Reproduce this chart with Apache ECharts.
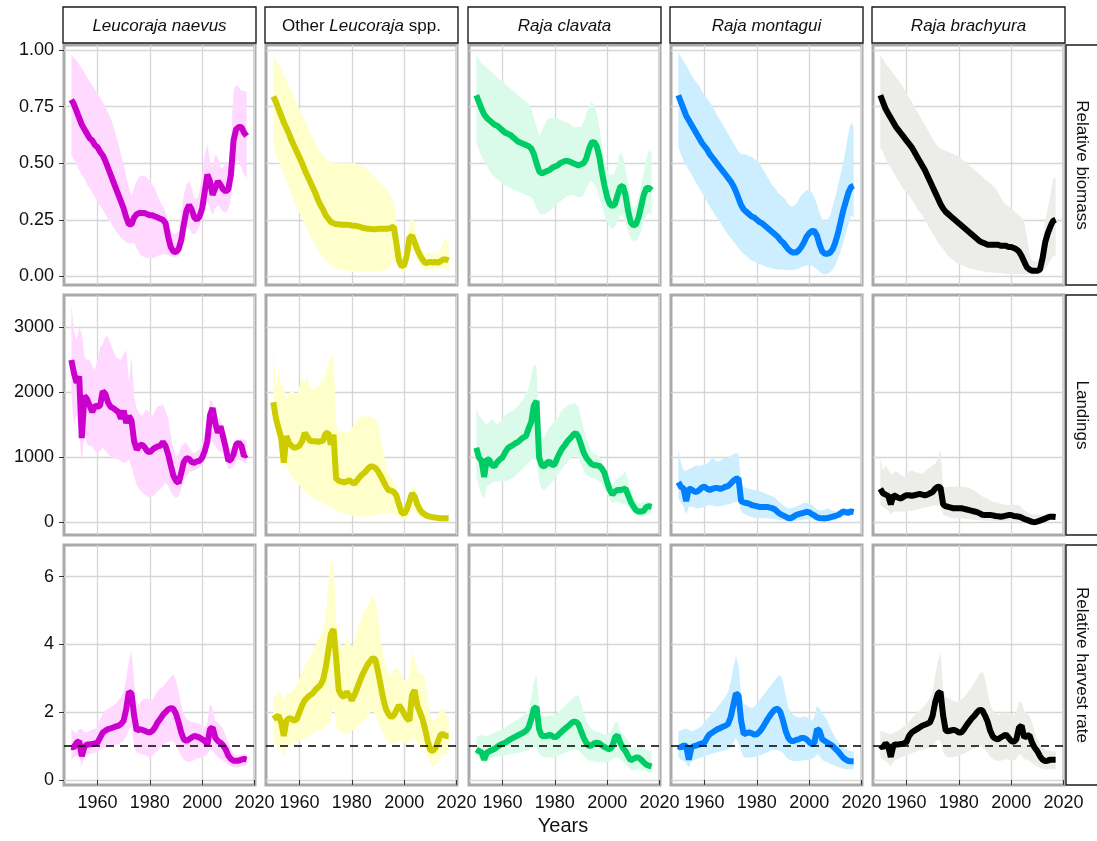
<!DOCTYPE html>
<html>
<head>
<meta charset="utf-8">
<script src="https://cdn.jsdelivr.net/npm/echarts@6.0.0/dist/echarts.min.js"></script>
<style>
  html, body { margin: 0; padding: 0; background: #fff; }
  #chart { width: 1097px; height: 841px; }
</style>
</head>
<body>
<div id="chart"></div>
<script>
// years of the series
const years = [1950,1951,1952,1953,1954,1955,1956,1957,1958,1959,
  1960,1961,1962,1963,1964,1965,1966,1967,1968,1969,
  1970,1971,1972,1973,1974,1975,1976,1977,1978,1979,
  1980,1981,1982,1983,1984,1985,1986,1987,1988,1989,
  1990,1991,1992,1993,1994,1995,1996,1997,1998,1999,
  2000,2001,2002,2003,2004,2005,2006,2007,2008,2009,
  2010,2011,2012,2013,2014,2015,2016,2017];

const species = ['Leucoraja naevus', 'Other {i|Leucoraja} spp.', 'Raja clavata', 'Raja montagui', 'Raja brachyura'];
const rowNames = ['Relative biomass', 'Landings', 'Relative harvest rate'];
const xTicks = [1960, 1980, 2000, 2020];
const yTicks = [[0, 0.25, 0.5, 0.75, 1], [0, 1000, 2000, 3000], [0, 2, 4, 6]];

// ---- relative biomass ----
const naevusBio = [0.78,0.76,0.73,0.70,0.67,0.65,0.63,0.61,0.60,0.58,
  0.57,0.55,0.535,0.51,0.48,0.45,0.42,0.39,0.36,0.33,
  0.30,0.26,0.23,0.23,0.26,0.275,0.28,0.28,0.28,0.275,
  0.27,0.27,0.265,0.26,0.255,0.25,0.235,0.175,0.13,0.11,
  0.108,0.12,0.16,0.23,0.29,0.315,0.295,0.26,0.25,0.265,
  0.30,0.375,0.45,0.42,0.36,0.39,0.42,0.405,0.385,0.375,
  0.385,0.45,0.60,0.65,0.66,0.66,0.635,0.62];
const naevusBioHi = [0.98,0.965,0.955,0.935,0.92,0.90,0.88,0.86,0.845,0.825,
  0.81,0.79,0.77,0.75,0.725,0.70,0.665,0.625,0.585,0.54,
  0.495,0.44,0.39,0.355,0.39,0.42,0.44,0.445,0.445,0.435,
  0.42,0.405,0.385,0.355,0.33,0.31,0.285,0.25,0.21,0.19,
  0.19,0.20,0.285,0.36,0.405,0.42,0.39,0.345,0.345,0.375,
  0.45,0.54,0.585,0.51,0.48,0.54,0.525,0.48,0.48,0.51,
  0.48,0.60,0.82,0.845,0.835,0.82,0.82,0.815];
const naevusBioLo = [0.54,0.515,0.495,0.47,0.45,0.43,0.405,0.39,0.37,0.35,
  0.33,0.31,0.295,0.275,0.255,0.24,0.22,0.20,0.185,0.17,
  0.16,0.15,0.145,0.145,0.145,0.125,0.10,0.09,0.085,0.08,
  0.08,0.08,0.085,0.09,0.095,0.098,0.10,0.095,0.088,0.085,
  0.085,0.092,0.135,0.19,0.21,0.22,0.19,0.185,0.20,0.22,
  0.255,0.30,0.33,0.30,0.27,0.30,0.315,0.30,0.285,0.28,
  0.295,0.345,0.45,0.51,0.51,0.48,0.45,0.435];

const otherBio = [0.795,0.77,0.74,0.71,0.68,0.655,0.63,0.60,0.575,0.55,
  0.525,0.50,0.47,0.445,0.42,0.395,0.37,0.34,0.315,0.295,
  0.27,0.255,0.24,0.235,0.23,0.23,0.228,0.228,0.228,0.227,
  0.225,0.224,0.222,0.22,0.215,0.213,0.21,0.21,0.208,0.208,
  0.21,0.21,0.21,0.21,0.21,0.215,0.22,0.15,0.07,0.045,
  0.05,0.09,0.17,0.18,0.15,0.12,0.095,0.075,0.06,0.06,
  0.065,0.06,0.065,0.06,0.068,0.075,0.075,0.07];
const otherBioHi = [0.98,0.96,0.94,0.915,0.89,0.865,0.84,0.815,0.79,0.765,
  0.74,0.715,0.69,0.665,0.64,0.615,0.59,0.57,0.55,0.535,
  0.52,0.51,0.505,0.50,0.50,0.50,0.50,0.50,0.50,0.50,
  0.50,0.50,0.495,0.49,0.485,0.48,0.47,0.46,0.45,0.435,
  0.42,0.41,0.40,0.385,0.37,0.35,0.33,0.24,0.13,0.09,
  0.10,0.14,0.24,0.26,0.22,0.17,0.14,0.11,0.10,0.10,
  0.11,0.10,0.11,0.10,0.12,0.15,0.17,0.14];
const otherBioLo = [0.57,0.54,0.51,0.48,0.45,0.42,0.39,0.36,0.33,0.305,
  0.28,0.255,0.23,0.205,0.18,0.16,0.14,0.12,0.10,0.085,
  0.07,0.06,0.05,0.042,0.035,0.032,0.03,0.028,0.025,0.022,
  0.02,0.02,0.02,0.02,0.02,0.02,0.02,0.02,0.02,0.02,
  0.02,0.022,0.025,0.03,0.04,0.055,0.07,0.06,0.03,0.02,
  0.02,0.05,0.10,0.12,0.10,0.07,0.05,0.04,0.03,0.03,
  0.035,0.03,0.035,0.03,0.035,0.04,0.03,0.02];

const clavataBio = [0.80,0.77,0.74,0.715,0.70,0.69,0.68,0.67,0.665,0.655,
  0.645,0.635,0.63,0.625,0.615,0.605,0.595,0.59,0.585,0.58,
  0.575,0.565,0.54,0.50,0.465,0.455,0.46,0.465,0.47,0.48,
  0.485,0.49,0.50,0.505,0.51,0.51,0.505,0.50,0.495,0.49,
  0.495,0.50,0.52,0.56,0.59,0.595,0.575,0.53,0.46,0.40,
  0.35,0.32,0.31,0.32,0.36,0.395,0.40,0.36,0.29,0.24,
  0.225,0.23,0.26,0.31,0.36,0.39,0.39,0.38];
const clavataBioHi = [0.98,0.96,0.94,0.93,0.92,0.91,0.90,0.89,0.88,0.87,
  0.86,0.85,0.84,0.83,0.82,0.81,0.80,0.79,0.78,0.77,
  0.76,0.74,0.70,0.66,0.62,0.64,0.67,0.69,0.70,0.70,
  0.70,0.70,0.69,0.69,0.68,0.68,0.67,0.66,0.66,0.66,
  0.66,0.68,0.72,0.75,0.77,0.76,0.72,0.66,0.58,0.51,
  0.47,0.45,0.45,0.46,0.50,0.55,0.53,0.48,0.41,0.34,
  0.30,0.31,0.35,0.40,0.46,0.52,0.56,0.54];
const clavataBioLo = [0.59,0.56,0.53,0.51,0.49,0.47,0.45,0.44,0.43,0.42,
  0.41,0.40,0.395,0.39,0.385,0.38,0.375,0.37,0.365,0.36,
  0.355,0.35,0.33,0.30,0.28,0.275,0.275,0.28,0.29,0.30,
  0.31,0.32,0.33,0.34,0.35,0.355,0.36,0.36,0.355,0.35,
  0.35,0.36,0.39,0.41,0.42,0.41,0.39,0.35,0.31,0.27,
  0.24,0.22,0.21,0.22,0.25,0.27,0.27,0.24,0.20,0.17,
  0.155,0.155,0.17,0.20,0.24,0.27,0.28,0.27];

const montaguiBio = [0.80,0.77,0.74,0.71,0.69,0.67,0.65,0.63,0.61,0.59,
  0.575,0.56,0.54,0.525,0.51,0.495,0.48,0.465,0.45,0.435,
  0.42,0.40,0.375,0.345,0.315,0.295,0.285,0.275,0.265,0.26,
  0.25,0.24,0.235,0.225,0.215,0.205,0.195,0.185,0.175,0.16,
  0.15,0.135,0.12,0.11,0.105,0.105,0.115,0.13,0.15,0.175,
  0.19,0.20,0.20,0.18,0.14,0.11,0.10,0.10,0.105,0.12,
  0.15,0.19,0.24,0.29,0.33,0.37,0.395,0.40];
const montaguiBioHi = [0.99,0.97,0.95,0.93,0.91,0.89,0.87,0.855,0.84,0.82,
  0.80,0.785,0.77,0.75,0.73,0.71,0.69,0.67,0.65,0.63,
  0.61,0.59,0.57,0.55,0.54,0.54,0.54,0.53,0.53,0.52,
  0.51,0.50,0.48,0.46,0.44,0.42,0.40,0.39,0.37,0.36,
  0.35,0.34,0.32,0.31,0.31,0.32,0.34,0.36,0.37,0.38,
  0.38,0.37,0.35,0.32,0.28,0.25,0.24,0.25,0.27,0.31,
  0.35,0.40,0.45,0.50,0.56,0.63,0.68,0.66];
const montaguiBioLo = [0.57,0.54,0.51,0.49,0.47,0.45,0.43,0.41,0.39,0.37,
  0.35,0.33,0.31,0.29,0.27,0.255,0.24,0.22,0.20,0.185,
  0.17,0.155,0.14,0.125,0.11,0.10,0.09,0.08,0.07,0.065,
  0.06,0.055,0.05,0.045,0.04,0.038,0.035,0.033,0.03,0.03,
  0.03,0.028,0.027,0.027,0.028,0.03,0.035,0.04,0.045,0.048,
  0.05,0.048,0.04,0.03,0.02,0.012,0.01,0.012,0.018,0.03,
  0.05,0.08,0.11,0.15,0.19,0.23,0.27,0.26];

const brachyuraBio = [0.80,0.77,0.74,0.72,0.70,0.68,0.66,0.645,0.63,0.615,
  0.60,0.585,0.57,0.55,0.53,0.51,0.49,0.47,0.445,0.42,
  0.395,0.37,0.345,0.32,0.30,0.285,0.275,0.265,0.255,0.245,
  0.235,0.225,0.215,0.205,0.195,0.185,0.175,0.165,0.155,0.15,
  0.145,0.14,0.14,0.14,0.14,0.14,0.135,0.135,0.135,0.13,
  0.13,0.125,0.12,0.11,0.09,0.065,0.04,0.03,0.025,0.025,
  0.025,0.03,0.08,0.15,0.19,0.22,0.245,0.25];
const brachyuraBioHi = [0.98,0.96,0.94,0.925,0.91,0.895,0.88,0.865,0.85,0.83,
  0.81,0.79,0.77,0.75,0.73,0.71,0.69,0.67,0.65,0.63,
  0.61,0.59,0.575,0.565,0.56,0.555,0.55,0.545,0.54,0.535,
  0.53,0.52,0.51,0.50,0.49,0.48,0.47,0.46,0.45,0.44,
  0.43,0.42,0.41,0.40,0.39,0.37,0.35,0.33,0.32,0.31,
  0.30,0.29,0.28,0.27,0.26,0.24,0.18,0.10,0.07,0.065,
  0.07,0.08,0.15,0.24,0.30,0.36,0.43,0.44];
const brachyuraBioLo = [0.57,0.55,0.52,0.50,0.48,0.46,0.44,0.42,0.40,0.385,
  0.37,0.355,0.34,0.32,0.30,0.285,0.27,0.25,0.23,0.21,
  0.19,0.17,0.15,0.135,0.12,0.105,0.09,0.08,0.07,0.06,
  0.055,0.05,0.045,0.04,0.035,0.033,0.03,0.028,0.025,0.023,
  0.02,0.02,0.018,0.017,0.016,0.015,0.014,0.013,0.012,0.011,
  0.01,0.01,0.01,0.01,0.01,0.01,0.01,0.01,0.01,0.01,
  0.01,0.01,0.02,0.035,0.05,0.07,0.09,0.09];

// ---- landings ----
const naevusLand = [2500,2300,2150,2250,1300,1950,1900,1800,1700,1800,
  1780,1800,2020,1980,1850,1780,1760,1730,1700,1600,
  1720,1530,1640,1570,1250,1120,1180,1200,1160,1100,
  1080,1120,1150,1170,1180,1240,1180,1050,880,720,
  640,610,760,930,990,980,930,920,940,950,
  1000,1100,1250,1650,1760,1530,1380,1480,1320,1150,
  950,970,1050,1200,1230,1180,1020,1050];
const naevusLandHi = [3350,2950,2800,3000,2900,2550,2500,2500,2400,2350,
  2500,2700,2750,2850,2860,2750,2650,2550,2520,2500,
  2600,2650,2150,2550,1950,1750,1680,1640,1700,1740,
  1680,1640,1720,1790,1800,1810,1720,1600,1350,1150,
  1020,1050,1170,1210,1230,1150,1090,1070,1100,1120,
  1180,1380,1600,1890,1850,1640,1640,1560,1480,1300,
  1130,1150,1180,1250,1280,1280,1280,1260];
const naevusLandLo = [2000,1500,1650,1400,900,1400,1200,1180,1170,1100,
  1070,1100,1150,1100,1050,1020,1000,980,970,940,
  920,930,970,850,700,580,510,470,430,400,
  385,400,435,480,510,560,610,560,480,410,
  385,400,510,640,720,760,790,800,820,845,
  880,970,1150,1330,1230,1180,1120,1090,1070,950,
  820,830,850,950,970,950,920,900];

const otherLand = [1850,1600,1450,1300,920,1330,1220,1180,1150,1160,
  1180,1250,1380,1320,1260,1250,1250,1240,1250,1260,
  1370,1380,1200,1350,680,640,630,620,630,650,
  620,600,650,700,740,770,820,860,860,840,
  790,720,640,560,500,490,470,420,280,160,
  130,200,320,450,400,280,200,150,120,100,
  90,80,75,70,65,65,65,65];
const otherLandHi = [2720,2050,2340,2100,2090,1900,1990,2040,2000,1950,
  2100,2240,2140,2240,2100,2040,2080,2090,2150,2190,
  2300,2450,2550,2580,1500,1380,1420,1400,1370,1400,
  1450,1520,1580,1610,1630,1630,1630,1630,1620,1580,
  1530,1300,1100,900,760,700,640,560,420,280,
  230,300,430,560,540,420,310,240,190,150,
  130,110,95,85,80,75,75,75];
const otherLandLo = [1530,1400,1250,1100,810,900,780,710,650,610,
  570,520,480,440,400,380,360,340,320,300,
  280,250,230,210,190,170,150,140,130,120,
  110,100,95,92,92,92,92,95,100,110,
  120,135,145,145,145,140,130,110,80,50,
  40,70,120,200,180,120,90,70,55,50,
  45,40,38,35,33,32,30,30];

const clavataLand = [1150,1000,950,700,980,960,880,870,930,970,
  1000,1080,1140,1170,1190,1220,1240,1280,1310,1330,
  1450,1550,1800,1870,1000,880,860,920,940,880,
  900,1000,1080,1150,1200,1260,1300,1350,1380,1320,
  1200,1080,1000,950,900,880,880,870,830,760,
  620,500,430,480,500,500,510,520,420,320,
  250,190,170,170,180,240,250,240];
const clavataLandHi = [1750,1650,1600,1550,1500,1550,1600,1550,1500,1550,
  1600,1650,1680,1700,1720,1760,1800,1850,1900,1980,
  2070,2250,2440,2400,1400,1300,1320,1400,1480,1500,
  1560,1600,1680,1740,1770,1800,1820,1830,1830,1780,
  1600,1450,1300,1190,1100,1050,1040,1020,950,850,
  780,650,580,630,680,700,740,780,650,500,
  400,340,300,300,310,330,320,310];
const clavataLandLo = [680,560,420,370,550,580,610,630,630,630,
  630,640,650,670,690,720,760,800,840,880,
  920,960,990,950,630,520,500,540,580,620,
  680,730,780,840,890,940,990,1020,1040,990,
  900,800,740,710,690,680,660,630,590,520,
  430,360,300,310,320,300,280,280,240,190,
  160,120,95,90,100,120,125,120];

const montaguiLand = [620,550,520,330,520,510,480,470,500,540,
  550,520,500,520,530,530,520,530,550,560,
  600,640,670,680,330,310,300,290,270,260,
  250,240,240,240,240,230,220,200,160,130,
  110,90,70,65,90,115,130,140,150,165,
  160,130,110,80,70,65,65,70,80,90,
  100,115,140,170,160,150,170,160];
const montaguiLandHi = [1130,920,800,800,820,840,860,880,870,880,
  880,900,950,990,960,940,950,980,990,1000,
  1020,1050,1070,1060,600,550,530,520,510,500,
  490,480,470,450,430,420,400,380,340,300,
  270,240,220,220,230,245,260,280,300,300,
  290,270,240,200,190,190,200,220,200,180,
  170,175,190,200,210,220,220,210];
const montaguiLandLo = [370,300,250,120,240,245,230,220,220,230,
  240,260,270,260,250,245,250,260,270,280,
  290,300,320,320,170,140,120,100,85,75,
  70,66,66,66,66,60,55,50,45,40,
  35,25,18,15,20,30,35,40,45,50,
  55,60,40,25,15,15,15,15,20,30,
  45,60,70,90,100,110,115,110];

const brachyuraLand = [520,450,430,410,280,420,400,380,370,400,
  420,420,410,420,430,440,430,420,430,450,
  470,520,550,540,280,250,240,230,220,220,
  220,220,210,200,190,180,170,160,140,120,
  115,115,115,110,100,95,90,95,105,115,
  115,100,95,90,75,55,40,25,10,5,
  15,30,45,60,80,90,90,85];
const brachyuraLandHi = [1000,800,870,820,740,760,790,760,730,700,
  720,790,800,780,770,760,750,780,820,850,
  880,900,1000,1120,540,540,550,550,550,550,
  550,550,550,540,530,510,490,460,430,400,
  380,360,340,320,310,300,290,280,275,270,
  270,270,270,260,230,190,165,140,125,117,
  117,117,120,125,135,143,145,140];
const brachyuraLandLo = [270,240,220,180,120,170,170,170,170,170,
  175,180,185,190,200,210,220,230,240,250,
  260,265,270,260,120,100,85,75,66,66,
  66,66,60,55,50,45,40,38,35,32,
  30,28,26,25,25,25,25,25,25,25,
  25,22,18,14,10,7,5,5,5,5,
  5,5,8,12,20,30,40,40];

// ---- relative harvest rate ----
const naevusHarv = [0.98,0.96,1.1,1.15,0.7,0.98,1.05,1.05,1.06,1.08,
  1.1,1.25,1.4,1.45,1.5,1.52,1.55,1.58,1.6,1.65,
  1.75,2.1,2.6,2.55,1.9,1.45,1.5,1.48,1.45,1.42,
  1.4,1.45,1.55,1.7,1.8,1.92,2.0,2.08,2.12,2.1,
  1.95,1.7,1.4,1.2,1.15,1.2,1.25,1.3,1.28,1.25,
  1.2,1.15,1.05,1.5,1.55,1.25,1.15,1.1,1.02,0.9,
  0.72,0.62,0.57,0.57,0.57,0.6,0.62,0.6];
const naevusHarvHi = [1.5,1.42,1.38,1.5,1.5,1.42,1.4,1.45,1.48,1.5,
  1.6,1.8,1.95,2.05,2.1,2.15,2.2,2.25,2.35,2.45,
  2.6,3.0,3.5,3.8,2.9,2.2,2.25,2.35,2.4,2.4,
  2.35,2.35,2.5,2.63,2.7,2.75,2.85,2.95,3.05,3.1,
  2.95,2.6,2.2,1.95,1.8,1.75,1.72,1.7,1.68,1.65,
  1.6,1.55,1.7,2.25,2.1,1.75,1.7,1.6,1.5,1.3,
  1.1,0.9,0.78,0.74,0.72,0.74,0.77,0.75];
const naevusHarvLo = [0.6,0.66,0.72,0.76,0.38,0.7,0.76,0.76,0.78,0.8,
  0.84,0.88,0.93,0.96,0.98,1.0,1.02,1.04,1.06,1.1,
  1.16,1.3,1.5,1.55,1.0,0.8,0.78,0.76,0.74,0.7,
  0.67,0.72,0.8,0.88,0.96,1.03,1.08,1.12,1.16,1.12,
  1.04,0.85,0.7,0.6,0.56,0.53,0.55,0.6,0.63,0.65,
  0.67,0.7,0.78,0.88,0.9,0.75,0.68,0.62,0.57,0.52,
  0.46,0.4,0.37,0.37,0.37,0.4,0.42,0.42];

const otherHarv = [1.8,1.85,1.9,1.7,1.3,1.75,1.82,1.8,1.75,1.8,
  2.0,2.2,2.35,2.43,2.5,2.55,2.65,2.73,2.8,2.95,
  3.3,3.8,4.3,4.45,3.6,2.65,2.5,2.45,2.6,2.5,
  2.35,2.5,2.7,2.9,3.1,3.25,3.4,3.5,3.6,3.55,
  3.2,2.8,2.4,2.1,1.95,1.85,1.9,2.05,2.2,2.1,
  1.95,1.82,1.75,2.5,2.65,2.2,2.0,1.8,1.5,1.15,
  0.88,0.86,0.95,1.15,1.35,1.35,1.3,1.3];
const otherHarvHi = [2.5,2.45,2.6,2.55,2.35,2.5,2.55,2.6,2.7,2.8,
  3.0,3.2,3.35,3.5,3.65,3.8,3.95,4.1,4.25,4.4,
  4.9,5.7,6.5,6.4,4.7,4.1,3.95,3.9,4.2,4.05,
  3.9,4.1,4.4,4.65,4.85,5.0,5.1,5.25,5.45,5.3,
  4.8,4.2,3.7,3.35,3.15,3.1,3.25,3.3,3.25,3.1,
  2.95,2.92,3.1,3.8,3.6,3.2,3.1,3.15,2.9,2.3,
  1.9,1.75,1.8,1.95,2.1,2.1,1.9,1.85];
const otherHarvLo = [1.15,1.05,0.95,0.9,0.7,0.95,1.0,1.05,1.1,1.12,
  1.16,1.2,1.24,1.28,1.32,1.36,1.4,1.44,1.48,1.52,
  1.56,1.65,1.75,2.3,1.6,1.45,1.4,1.38,1.35,1.4,
  1.45,1.5,1.55,1.62,1.7,1.8,1.9,2.0,2.04,1.95,
  1.75,1.55,1.35,1.2,1.1,1.06,1.08,1.12,1.15,1.12,
  1.08,1.06,1.12,1.25,1.2,1.12,1.05,0.96,0.85,0.67,
  0.5,0.38,0.45,0.57,0.68,0.76,0.76,0.76];

const clavataHarv = [0.9,0.85,0.82,0.6,0.8,0.85,0.88,0.92,0.98,1.03,
  1.07,1.1,1.15,1.2,1.24,1.28,1.32,1.36,1.4,1.45,
  1.55,1.8,2.1,2.15,1.5,1.3,1.3,1.3,1.33,1.3,
  1.25,1.3,1.38,1.45,1.52,1.58,1.65,1.72,1.72,1.65,
  1.45,1.25,1.1,1.0,1.02,1.08,1.1,1.08,1.02,0.97,
  0.93,0.9,1.0,1.25,1.32,1.1,0.95,0.85,0.7,0.58,
  0.62,0.66,0.66,0.6,0.52,0.45,0.42,0.4];
const clavataHarvHi = [1.25,1.3,1.33,1.3,1.3,1.33,1.36,1.4,1.43,1.46,
  1.5,1.55,1.6,1.65,1.7,1.75,1.8,1.85,1.9,2.0,
  2.1,2.4,2.9,3.1,2.2,1.92,1.88,1.87,1.9,1.9,
  1.92,1.98,2.05,2.12,2.2,2.28,2.35,2.42,2.48,2.5,
  2.3,2.0,1.75,1.6,1.52,1.45,1.42,1.4,1.36,1.34,
  1.36,1.4,1.5,1.7,1.73,1.45,1.35,1.25,1.15,1.05,
  0.95,0.98,1.05,1.0,0.95,0.9,0.85,0.85];
const clavataHarvLo = [0.66,0.63,0.6,0.47,0.55,0.6,0.63,0.66,0.68,0.7,
  0.71,0.73,0.75,0.76,0.78,0.79,0.8,0.82,0.84,0.86,
  0.88,0.92,0.95,0.95,0.78,0.7,0.67,0.66,0.66,0.66,
  0.66,0.7,0.74,0.77,0.8,0.83,0.86,0.88,0.9,0.88,
  0.8,0.7,0.62,0.58,0.56,0.55,0.54,0.53,0.52,0.51,
  0.52,0.56,0.62,0.66,0.66,0.62,0.55,0.47,0.38,0.3,
  0.27,0.3,0.32,0.3,0.27,0.24,0.22,0.22];

const montaguiHarv = [1.0,0.95,1.02,1.0,0.6,0.95,1.0,1.02,1.05,1.08,
  1.1,1.25,1.35,1.4,1.45,1.5,1.53,1.57,1.6,1.65,
  1.85,2.2,2.55,2.5,1.75,1.35,1.38,1.4,1.38,1.34,
  1.35,1.42,1.52,1.65,1.78,1.9,2.0,2.08,2.1,2.0,
  1.75,1.45,1.25,1.15,1.15,1.18,1.2,1.24,1.24,1.2,
  1.12,1.05,1.1,1.5,1.45,1.2,1.15,1.1,1.05,1.0,
  0.92,0.85,0.75,0.66,0.6,0.56,0.55,0.55];
const montaguiHarvHi = [1.45,1.45,1.5,1.52,1.48,1.44,1.46,1.5,1.53,1.6,
  1.7,1.8,1.9,1.98,2.05,2.15,2.25,2.35,2.45,2.6,
  2.9,3.3,3.65,3.4,2.5,2.25,2.2,2.15,2.12,2.15,
  2.25,2.35,2.45,2.55,2.65,2.75,2.85,2.95,3.05,3.1,
  2.9,2.5,2.15,2.0,1.92,1.86,1.84,1.85,1.87,1.85,
  1.8,1.75,1.85,2.2,2.1,1.95,1.87,1.75,1.55,1.4,
  1.25,1.15,1.05,0.97,0.92,0.88,0.85,0.85];
const montaguiHarvLo = [0.66,0.6,0.56,0.5,0.37,0.55,0.58,0.62,0.65,0.67,
  0.7,0.73,0.76,0.78,0.8,0.82,0.84,0.86,0.88,0.9,
  0.95,1.1,1.24,1.1,0.85,0.68,0.66,0.66,0.66,0.67,
  0.69,0.72,0.75,0.78,0.82,0.86,0.89,0.9,0.88,0.85,
  0.8,0.7,0.62,0.58,0.56,0.56,0.56,0.57,0.58,0.6,
  0.61,0.62,0.66,0.76,0.7,0.58,0.55,0.52,0.48,0.45,
  0.42,0.38,0.36,0.34,0.32,0.32,0.32,0.32];

const brachyuraHarv = [1.02,0.95,1.08,1.0,0.68,1.02,1.05,1.05,1.06,1.08,
  1.12,1.3,1.4,1.45,1.5,1.55,1.6,1.63,1.66,1.7,
  1.9,2.3,2.55,2.6,1.9,1.45,1.44,1.46,1.48,1.45,
  1.4,1.4,1.5,1.62,1.72,1.82,1.9,2.0,2.07,2.05,
  1.9,1.72,1.45,1.28,1.22,1.2,1.25,1.3,1.34,1.25,
  1.15,1.12,1.2,1.55,1.6,1.25,1.3,1.32,1.1,0.95,
  0.85,0.7,0.6,0.56,0.57,0.6,0.6,0.6];
const brachyuraHarvHi = [1.45,1.42,1.4,1.38,1.35,1.38,1.42,1.46,1.52,1.58,
  1.65,1.72,1.8,1.9,1.98,2.05,2.13,2.2,2.3,2.4,
  2.6,3.1,3.5,3.75,2.7,2.45,2.4,2.38,2.33,2.3,
  2.32,2.38,2.45,2.55,2.65,2.75,2.88,3.0,3.15,3.2,
  3.0,2.6,2.25,2.05,1.98,1.92,1.94,1.98,2.0,1.95,
  1.92,1.9,2.0,2.3,2.3,2.05,1.95,1.9,1.7,1.4,
  1.2,1.05,0.95,0.9,0.88,0.86,0.85,0.85];
const brachyuraHarvLo = [0.66,0.6,0.56,0.5,0.38,0.55,0.6,0.64,0.67,0.7,
  0.73,0.76,0.79,0.82,0.85,0.87,0.89,0.91,0.93,0.95,
  1.0,1.1,1.2,1.15,0.85,0.7,0.67,0.66,0.67,0.69,
  0.71,0.74,0.78,0.82,0.86,0.9,0.94,0.98,1.0,0.97,
  0.9,0.8,0.7,0.62,0.58,0.56,0.57,0.59,0.61,0.6,
  0.58,0.57,0.62,0.75,0.72,0.62,0.6,0.56,0.5,0.45,
  0.4,0.36,0.33,0.32,0.32,0.32,0.32,0.32];

// [row][col] -> [line, lo, hi]
const panelData = [
  [[naevusBio, naevusBioLo, naevusBioHi], [otherBio, otherBioLo, otherBioHi], [clavataBio, clavataBioLo, clavataBioHi],
   [montaguiBio, montaguiBioLo, montaguiBioHi], [brachyuraBio, brachyuraBioLo, brachyuraBioHi]],
  [[naevusLand, naevusLandLo, naevusLandHi], [otherLand, otherLandLo, otherLandHi], [clavataLand, clavataLandLo, clavataLandHi],
   [montaguiLand, montaguiLandLo, montaguiLandHi], [brachyuraLand, brachyuraLandLo, brachyuraLandHi]],
  [[naevusHarv, naevusHarvLo, naevusHarvHi], [otherHarv, otherHarvLo, otherHarvHi], [clavataHarv, clavataHarvLo, clavataHarvHi],
   [montaguiHarv, montaguiHarvLo, montaguiHarvHi], [brachyuraHarv, brachyuraHarvLo, brachyuraHarvHi]]
];

const lineColors = ['#CC00CC', '#CCCC00', '#00CC66', '#0080FF', '#000000'];
const bandColors = ['#FFD9FF', '#FFFFCC', '#DAFBE9', '#CCEEFF', '#ECECE8'];

const FONT = "'Liberation Sans', Arial, Helvetica, sans-serif";
const TXT = '#111';
const colLeft = [64, 266, 469, 671, 873];
const rowTop = [45, 295, 545];
const panelW = 191, panelH = 240;
const yRange = [[-0.038, 1.022, 0.25], [-192, 3500, 1000], [-0.148, 6.93, 2]];

function bandRenderer(lo, hi, color) {
  return function (params, api) {
    if (params.dataIndex !== 0) return;
    const top = [], bottom = [];
    for (let i = 0; i < years.length; i++) {
      top.push(api.coord([years[i], hi[i]]));
      bottom.unshift(api.coord([years[i], lo[i]]));
    }
    return { type: 'polygon', shape: { points: top.concat(bottom) }, style: { fill: color } };
  };
}

const grids = [], xAxes = [], yAxes = [], series = [], graphics = [];

for (let r = 0; r < 3; r++) {
  for (let c = 0; c < 5; c++) {
    const idx = r * 5 + c;
    grids.push({
      left: colLeft[c], top: rowTop[r], width: panelW, height: panelH,
      show: true, borderColor: '#A9A9A9', borderWidth: 3, backgroundColor: '#fff'
    });
    const bottomRow = r === 2, firstCol = c === 0;
    xAxes.push({
      type: 'value', gridIndex: idx, min: 1947.2, max: 2020.2,
      minInterval: 20, maxInterval: 20,
      axisLine: { show: false },
      axisTick: { show: bottomRow, length: 5, lineStyle: { color: '#333' }, customValues: xTicks },
      axisLabel: {
        show: bottomRow, customValues: xTicks, margin: 9, fontSize: 18, color: TXT, fontFamily: FONT,
        formatter: v => (Math.abs(v % 20) < 1e-6 ? String(v) : '')
      },
      splitLine: { show: true, lineStyle: { color: '#D6D6D6', width: 1.3 } }
    });
    const yr = yRange[r];
    yAxes.push({
      type: 'value', gridIndex: idx, min: yr[0], max: yr[1],
      minInterval: yr[2], maxInterval: yr[2],
      axisLine: { show: false },
      axisTick: { show: firstCol, length: 5, lineStyle: { color: '#333' }, customValues: yTicks[r] },
      axisLabel: {
        show: firstCol, customValues: yTicks[r], margin: 10, fontSize: 18, color: TXT, fontFamily: FONT,
        formatter: function (v) {
          const k = v / yr[2];
          if (Math.abs(k - Math.round(k)) > 1e-6 || v < 0) return '';
          return r === 0 ? v.toFixed(2) : String(Math.round(v));
        }
      },
      splitLine: { show: true, lineStyle: { color: '#D6D6D6', width: 1.3 } }
    });

    const d = panelData[r][c];
    series.push({
      type: 'custom', xAxisIndex: idx, yAxisIndex: idx, silent: true, z: 1,
      renderItem: bandRenderer(d[1], d[2], bandColors[c]),
      data: years.map((y, i) => [y, d[1][i], d[2][i]])
    });
    const lineSeries = {
      type: 'line', xAxisIndex: idx, yAxisIndex: idx, z: 3,
      showSymbol: false, silent: true,
      lineStyle: { color: lineColors[c], width: 6, join: 'bevel' },
      data: years.map((y, i) => [y, d[0][i]])
    };
    if (r === 2) {
      lineSeries.markLine = {
        silent: true, symbol: 'none', label: { show: false },
        lineStyle: { color: '#000', type: [8, 6], width: 1.6 },
        data: [{ yAxis: 1 }]
      };
    }
    series.push(lineSeries);
  }
}

// facet strips on top
for (let c = 0; c < 5; c++) {
  graphics.push({
    type: 'rect', z: 100,
    shape: { x: colLeft[c] - 1, y: 7, width: panelW + 2, height: 36 },
    style: { fill: '#fff', stroke: '#1a1a1a', lineWidth: 1.4 }
  });
  graphics.push({
    type: 'text', z: 101, x: colLeft[c] + panelW / 2, y: 26,
    style: {
      text: species[c], fill: TXT, fontSize: 17, fontFamily: FONT,
      fontStyle: c === 1 ? 'normal' : 'italic',
      rich: { i: { fontStyle: 'italic', fontSize: 17, fontFamily: FONT, fill: TXT } },
      align: 'center', verticalAlign: 'middle', textAlign: 'center', textVerticalAlign: 'middle'
    }
  });
}
// facet strips on the right
for (let r = 0; r < 3; r++) {
  graphics.push({
    type: 'rect', z: 100,
    shape: { x: 1066, y: rowTop[r], width: 45, height: panelH },
    style: { fill: '#fff', stroke: '#1a1a1a', lineWidth: 1.4 }
  });
  graphics.push({
    type: 'text', z: 101, x: 1082, y: rowTop[r] + panelH / 2, rotation: -Math.PI / 2,
    style: {
      text: rowNames[r], fill: TXT, fontSize: 17, fontFamily: FONT,
      align: 'center', verticalAlign: 'middle', textAlign: 'center', textVerticalAlign: 'middle'
    }
  });
}
graphics.push({
  type: 'text', z: 101, x: 563, y: 826,
  style: {
    text: 'Years', fill: TXT, fontSize: 20, fontFamily: FONT,
    align: 'center', verticalAlign: 'middle', textAlign: 'center', textVerticalAlign: 'middle'
  }
});

const chart = echarts.init(document.getElementById('chart'), null, { renderer: 'canvas' });
chart.setOption({
  backgroundColor: '#fff',
  animation: false,
  grid: grids,
  xAxis: xAxes,
  yAxis: yAxes,
  series: series,
  graphic: graphics
});

// sanity check on the data lengths
const bad = [];
panelData.forEach((row, r) => row.forEach((p, c) => p.forEach((a, k) => {
  if (a.length !== years.length) bad.push(r + '/' + c + '/' + k + ':' + a.length);
})));
if (bad.length) throw new Error('length mismatch ' + bad.join(', '));
</script>
</body>
</html>
